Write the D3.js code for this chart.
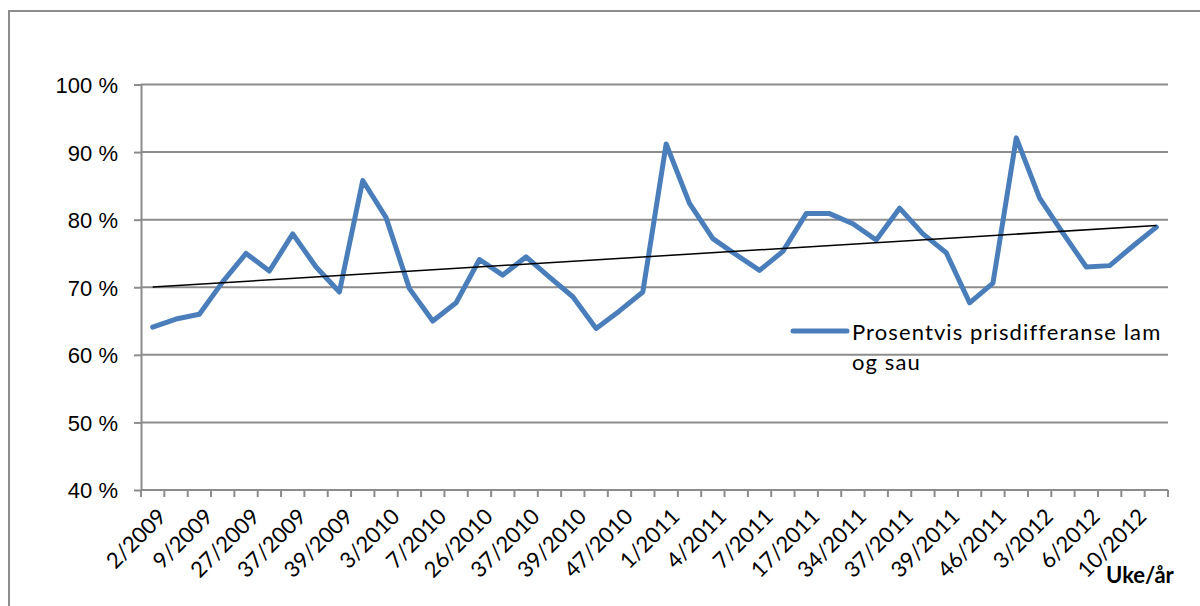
<!DOCTYPE html>
<html>
<head>
<meta charset="utf-8">
<script src="https://cdn.jsdelivr.net/npm/d3@7"></script>
<style>
  body { margin: 0; background: #fff; }
  svg { display: block; font-family: Lato, "Open Sans", sans-serif; }
  .grid line { stroke: #8c8c8c; stroke-width: 2; }
  .axis path, .axis line { stroke: #8c8c8c; stroke-width: 2; }
  .axis text { fill: #000; font-size: 22px; }
</style>
</head>
<body>
<div id="chart"></div>
<script>
// Weekly percentage price difference, lamb vs. sheep (44 weeks)
var tickLabels = ["2/2009", "9/2009", "27/2009", "37/2009", "39/2009", "3/2010", "7/2010",
  "26/2010", "37/2010", "39/2010", "47/2010", "1/2011", "4/2011", "7/2011", "17/2011",
  "34/2011", "37/2011", "39/2011", "46/2011", "3/2012", "6/2012", "10/2012"];

var values = [64.1, 65.3, 66.0, 70.8, 75.0, 72.4, 77.9, 73.0, 69.3, 85.8, 80.3, 69.8,
  65.0, 67.7, 74.1, 71.8, 74.5, 71.5, 68.6, 63.9, 66.5, 69.3, 91.2, 82.4, 77.2, 74.8,
  72.5, 75.3, 80.9, 80.9, 79.4, 77.0, 81.7, 77.9, 75.1, 67.7, 70.6, 92.1, 83.2, 78.0,
  73.0, 73.2, 76.1, 78.9];

var yTicks = [40, 50, 60, 70, 80, 90, 100];
var seriesName = ["Prosentvis prisdifferanse lam", "og sau"];
var xTitle = "Uke/år";

var W = 1200, H = 606;
var margin = {top: 84.5, right: 32, bottom: 116, left: 141},
    width = W - margin.left - margin.right,
    height = H - margin.top - margin.bottom;

var svg = d3.select("#chart").append("svg")
    .attr("width", W)
    .attr("height", H);

// outer chart frame (only top and left edges are visible)
svg.append("path")
    .attr("d", "M9,606 V11 H1200")
    .attr("fill", "none")
    .attr("stroke", "#8c8c8c")
    .attr("stroke-width", 2);

var g = svg.append("g")
    .attr("transform", "translate(" + margin.left + "," + margin.top + ")");

var idx = d3.range(values.length);

var x = d3.scaleBand()
    .domain(idx)
    .range([0, width])
    .paddingInner(0)
    .paddingOuter(0);

var y = d3.scaleLinear()
    .domain([40, 100])
    .range([height, 0]);

var cx = function(i) { return x(i) + x.bandwidth() / 2; };

// horizontal gridlines
g.append("g")
    .attr("class", "grid")
    .selectAll("line")
    .data(yTicks.slice(1))
    .enter().append("line")
    .attr("x1", 0)
    .attr("x2", width)
    .attr("y1", function(d) { return y(d); })
    .attr("y2", function(d) { return y(d); });

// y axis
var yAxis = g.append("g")
    .attr("class", "axis")
    .call(d3.axisLeft(y)
        .tickValues(yTicks)
        .tickSize(7)
        .tickSizeOuter(0)
        .tickPadding(16)
        .tickFormat(function(d) { return d + " %"; }));
yAxis.selectAll("text").attr("dy", "0.36em");

// x axis: tick at each category boundary
var bounds = d3.range(values.length + 1).map(function(i) { return i * x.step(); });
var xAxis = g.append("g")
    .attr("class", "axis")
    .attr("transform", "translate(0," + height + ")");
xAxis.append("line")
    .attr("x1", 0).attr("x2", width);
xAxis.selectAll(".tk")
    .data(bounds)
    .enter().append("line")
    .attr("class", "tk")
    .attr("x1", function(d) { return d; })
    .attr("x2", function(d) { return d; })
    .attr("y1", 0)
    .attr("y2", 7);

xAxis.selectAll(".lbl")
    .data(tickLabels)
    .enter().append("text")
    .attr("class", "lbl")
    .attr("text-anchor", "end")
    .attr("transform", function(d, k) {
        return "translate(" + (cx(k * 2) + 4) + ",17) rotate(-45)";
    })
    .attr("dy", "0.7em")
    .text(function(d) { return d; });

// the data line
var line = d3.line()
    .x(function(d, i) { return cx(i); })
    .y(function(d) { return y(d); });

g.append("path")
    .datum(values)
    .attr("fill", "none")
    .attr("stroke", "#4a7ebb")
    .attr("stroke-width", 5)
    .attr("stroke-linejoin", "round")
    .attr("stroke-linecap", "round")
    .attr("d", line);

// linear trendline (least squares over the series)
var n = values.length,
    mx = d3.mean(idx),
    my = d3.mean(values),
    sxy = d3.sum(idx, function(i) { return (i - mx) * (values[i] - my); }),
    sxx = d3.sum(idx, function(i) { return (i - mx) * (i - mx); }),
    slope = sxy / sxx,
    icpt = my - slope * mx;

g.append("line")
    .attr("x1", cx(0))
    .attr("y1", y(icpt))
    .attr("x2", cx(n - 1))
    .attr("y2", y(icpt + slope * (n - 1)))
    .attr("stroke", "#000")
    .attr("stroke-width", 1.5);

// legend
var leg = svg.append("g").attr("transform", "translate(793,331)");
leg.append("line")
    .attr("x1", 0).attr("x2", 54)
    .attr("stroke", "#4a7ebb")
    .attr("stroke-width", 5)
    .attr("stroke-linecap", "round");
leg.selectAll("text")
    .data(seriesName)
    .enter().append("text")
    .attr("x", 59)
    .attr("y", function(d, i) { return 9 + i * 30; })
    .attr("font-size", 22)
    .attr("letter-spacing", 1.1)
    .attr("fill", "#000")
    .text(function(d) { return d; });

// x axis title
svg.append("text")
    .attr("x", 1106)
    .attr("y", 583)
    .attr("font-size", 22)
    .attr("font-weight", "bold")
    .attr("fill", "#000")
    .text(xTitle);
</script>
</body>
</html>
